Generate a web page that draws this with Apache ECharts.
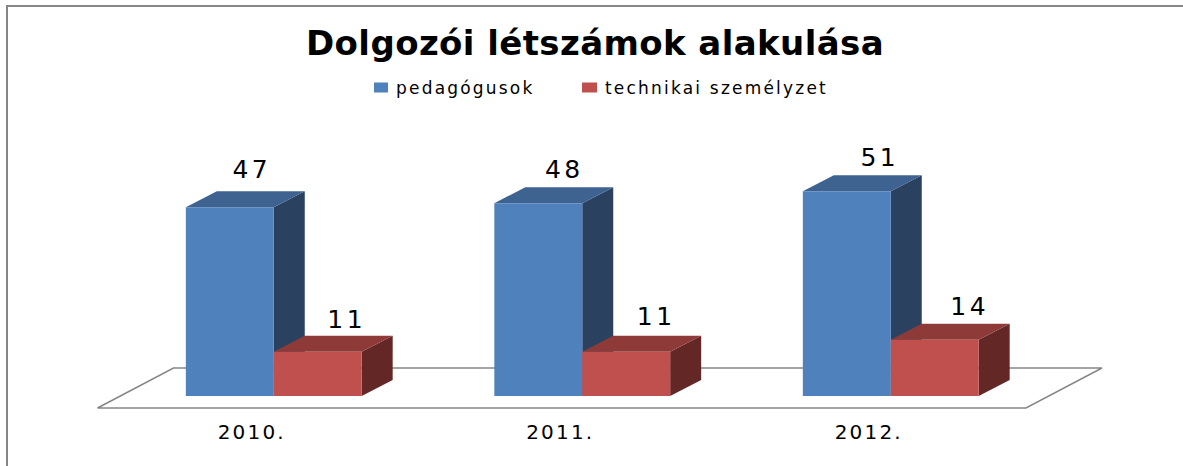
<!DOCTYPE html>
<html><head><meta charset="utf-8">
<style>
html,body{margin:0;padding:0;background:#fff}
#c{width:1183px;height:466px}
svg text{letter-spacing:2.2px}
svg text[style*="25px"]{letter-spacing:3.5px}
svg text[style*="bold"]{letter-spacing:0.4px}
</style>
<script src="https://cdn.jsdelivr.net/npm/echarts@6/dist/echarts.min.js"></script>
</head><body><div id="c"></div>
<script>
const categories = ['2010.', '2011.', '2012.'];
const teachers = [47, 48, 51];
const staff = [11, 11, 14];
const seriesNames = ['pedagógusok', 'technikai személyzet'];
const titleText = 'Dolgozói létszámok alakulása';

const FONT = '"DejaVu Sans"';
const DEPTH = [31, -16];
const SHIFT = [22, -12];
const FLOOR = [76, -40];
const FLOOR_PAD = 3;
const WIDTH_RATIO = 0.285;
const NUDGE_A = [[-7, -4], [-3, 0], [4, 0]];
const NUDGE_B = [[0, 2], [1, -1], [6, 1]];

function barRenderer(side, faces, nudges) {
  return function (params, api) {
    const w = api.size([1, 0])[0] * WIDTH_RATIO;
    const top = api.coord([api.value(0), api.value(1)]);
    const base = api.coord([api.value(0), 0]);
    const x0 = top[0] + SHIFT[0] + (side < 0 ? -w : 0);
    const x1 = x0 + w;
    const yt = top[1] + SHIFT[1];
    const yb = base[1] + SHIFT[1];
    const dx = DEPTH[0], dy = DEPTH[1];
    const n = nudges[params.dataIndex];
    return {
      type: 'group',
      children: [
        { type: 'polygon', shape: { points: [[x1, yt], [x1 + dx, yt + dy], [x1 + dx, yb + dy], [x1, yb]] },
          style: { fill: faces.side } },
        { type: 'polygon', shape: { points: [[x0, yt], [x0 + dx, yt + dy], [x1 + dx, yt + dy], [x1, yt]] },
          style: { fill: faces.top } },
        { type: 'rect', shape: { x: x0, y: yt, width: w, height: yb - yt },
          style: { fill: faces.front } },
        { type: 'text', x: (x0 + x1) / 2 + 29 + n[0], y: yt + dy - 18 + n[1],
          style: { text: String(api.value(1)), fill: '#000', font: '25px ' + FONT, textAlign: 'center', textVerticalAlign: 'middle' } }
      ]
    };
  };
}

function floorRenderer(params) {
  const r = params.coordSys;
  const y = r.y + r.height;
  const xr = r.x + r.width + FLOOR_PAD;
  return {
    type: 'polygon',
    shape: { points: [[r.x, y], [r.x + FLOOR[0], y + FLOOR[1]], [xr + FLOOR[0], y + FLOOR[1]], [xr, y]] },
    style: { fill: '#fff', stroke: '#868686', lineWidth: 1.5 }
  };
}

const legendText = { fontFamily: FONT, fontSize: 17, color: '#000', padding: [0, 0, 0, 3] };
const chart = echarts.init(document.getElementById('c'), null, { renderer: 'svg' });
chart.setOption({
  animation: false,
  backgroundColor: '#fff',
  title: {
    text: titleText, left: 590, top: 21, textAlign: 'center',
    textStyle: { fontFamily: FONT, fontWeight: 'bold', fontSize: 34, color: '#000' }
  },
  legend: [
    { data: [seriesNames[0]], left: 369, top: 74, icon: 'rect', itemWidth: 14, itemHeight: 10, itemGap: 0, textStyle: legendText },
    { data: [seriesNames[1]], left: 577, top: 74, icon: 'rect', itemWidth: 15, itemHeight: 10, itemGap: 0, textStyle: legendText }
  ],
  grid: { left: 97.5, right: 160, top: 167, bottom: 58 },
  xAxis: {
    type: 'category', data: categories,
    axisLine: { show: false }, axisTick: { show: false }, splitLine: { show: false },
    axisLabel: { fontFamily: FONT, fontSize: 20, color: '#000', margin: 14 }
  },
  yAxis: { type: 'value', min: 0, max: 60, show: false },
  graphic: [{
    type: 'rect', z: -10, silent: true,
    shape: { x: 7, y: 6, width: 1400, height: 700 },
    style: { fill: 'none', stroke: '#868686', lineWidth: 2 }
  }],
  series: [
    { type: 'custom', name: 'floor', renderItem: floorRenderer, data: [[0, 0]], silent: true, z: 1 },
    { type: 'custom', name: seriesNames[0], itemStyle: { color: '#4F81BD' }, z: 2,
      renderItem: barRenderer(-1, { front: '#4F81BD', top: '#3E6390', side: '#2A4260' }, NUDGE_A),
      encode: { x: 0, y: 1 }, data: teachers.map((v, i) => [i, v]) },
    { type: 'custom', name: seriesNames[1], itemStyle: { color: '#C0504D' }, z: 3,
      renderItem: barRenderer(1, { front: '#C0504D', top: '#8E3A38', side: '#632826' }, NUDGE_B),
      encode: { x: 0, y: 1 }, data: staff.map((v, i) => [i, v]) }
  ]
});
</script></body></html>
